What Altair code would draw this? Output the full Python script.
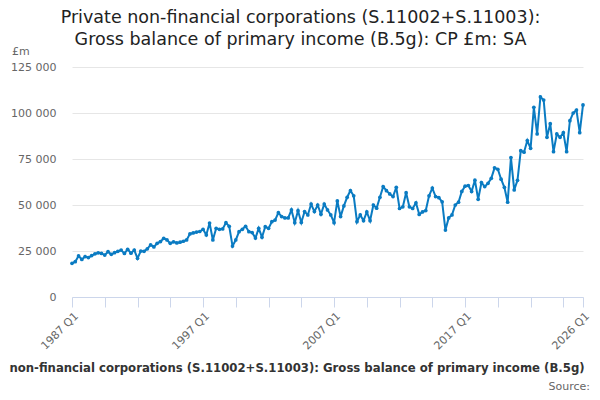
import altair as alt
import pandas as pd

# Quarterly periods 1987 Q1 .. 2026 Q1
years = list(range(1987, 2027))
periods = [f"{y} Q{q}" for y in years for q in range(1, 5)][:157]

# Gross balance of primary income, £m
values = [
    18300, 19200, 22300, 20400, 22000, 21400, 22500, 23400, 24000, 23700,
    22800, 24600, 23200, 24100, 24800, 25500, 23700, 25900, 23800, 25500,
    21000, 25000, 24800, 26200, 28300, 27200, 29200, 30100, 31900, 31000,
    29200, 30000, 29400, 29800, 30300, 31000, 34300, 34800, 35300, 35600,
    36800, 33700, 40200, 31000, 37300, 36800, 37000, 40400, 38400, 27700,
    31000, 35500, 36800, 38400, 35500, 35000, 32000, 37300, 32500, 38200,
    37300, 40900, 41800, 45800, 43700, 43000, 43000, 47300, 40400, 46900,
    40500, 46400, 44600, 50500, 46400, 50000, 45000, 50500, 47300, 44600,
    40400, 52200, 43700, 49500, 54200, 57800, 55000, 40900, 44600, 41500,
    46200, 41500, 50000, 48300, 54200, 60000, 57800, 56000, 54600, 59600,
    48100, 49000, 56700, 49000, 48100, 51200, 44900, 46200, 47000, 55000,
    59200, 54600, 54000, 51700, 36400, 43000, 44600, 50000, 51500, 57400,
    60200, 60600, 57400, 63500, 53100, 62200, 60000, 61800, 64500, 70200,
    69400, 64000, 59600, 51500, 75800, 58200, 63400, 79500, 78700, 85000,
    80800, 103100, 88600, 108700, 107000, 86800, 94200, 79000, 88600, 86800,
    89300, 79000, 95800, 100000, 101600, 89300, 104400,
]

label_periods = ["1987 Q1", "1997 Q1", "2007 Q1", "2017 Q1", "2026 Q1"]
tick_periods = [periods[i] for i in range(0, 157, 10)] + ["2026 Q1"]
y_ticks = [0, 25000, 50000, 75000, 100000, 125000]

title_lines = [
    "Private non-financial corporations (S.11002+S.11003):",
    "Gross balance of primary income (B.5g): CP £m: SA",
]
legend_text = "non-financial corporations (S.11002+S.11003): Gross balance of primary income (B.5g)"

df = pd.DataFrame({"period": periods, "value": values})

FONT = "DejaVu Sans"
BLUE = "#0a7bc2"

x_enc = alt.X(
    "period:O",
    sort=None,
    scale=alt.Scale(type="point", padding=0),
    axis=alt.Axis(
        values=tick_periods,
        labelExpr="indexof(" + str(label_periods) + ", datum.value) >= 0 ? datum.label : ''",
        labelAngle=-45,
        labelAlign="right",
        labelBaseline="top",
        labelOverlap=False,
        labelColor="#666666",
        labelFontSize=11,
        labelFont=FONT,
        labelPadding=3,
        domainColor="#ccd6eb",
        tickColor="#ccd6eb",
        tickSize=10,
        grid=False,
        title=None,
    ),
)
y_enc = alt.Y(
    "value:Q",
    scale=alt.Scale(domain=[0, 125000], nice=False),
    axis=alt.Axis(
        values=y_ticks,
        labelExpr="datum.value >= 1000 ? floor(datum.value / 1000) + ' 000' : '0'",
        grid=True,
        gridColor="#e6e6e6",
        domain=False,
        ticks=False,
        labelPadding=16,
        labelColor="#666666",
        labelFontSize=11,
        labelFont=FONT,
        title=None,
    ),
)

base = alt.Chart(df)
line = base.mark_line(color=BLUE, strokeWidth=2).encode(x=x_enc, y=y_enc)
points = base.mark_circle(color=BLUE, size=14, opacity=1).encode(x=x_enc, y=y_enc)

legend = alt.Chart(pd.DataFrame({"t": [legend_text]})).mark_text(
    font=FONT, fontSize=11.7, fontWeight="bold", color="#333333", align="center", baseline="middle"
).encode(x=alt.value(225), y=alt.value(301), text="t:N")

src = alt.Chart(pd.DataFrame({"t": ["Source:"]})).mark_text(
    font=FONT, fontSize=11, color="#666666", align="right", baseline="middle"
).encode(x=alt.value(518), y=alt.value(320), text="t:N")

unit_lbl = alt.Chart(pd.DataFrame({"t": ["£m"]})).mark_text(
    font=FONT, fontSize=11, color="#666666", align="left", baseline="middle"
).encode(x=alt.value(-60), y=alt.value(-15), text="t:N")

chart = (
    alt.layer(line, points, legend, src, unit_lbl)
    .properties(
        width=511,
        height=230,
        autosize=alt.AutoSizeParams(type="none"),
        padding={"left": 64, "top": 59, "right": 9, "bottom": 95},
        title=alt.TitleParams(
            text=title_lines,
            font=FONT,
            fontSize=17.5,
            fontWeight="normal",
            color="#222222",
            lineHeight=22,
            anchor="middle",
            frame="group",
            dx=-27,
            dy=22,
            offset=20,
        ),
    )
    .configure_view(stroke=None)
)

chart.save("out.html", embed_options={"renderer": "svg", "actions": False})
